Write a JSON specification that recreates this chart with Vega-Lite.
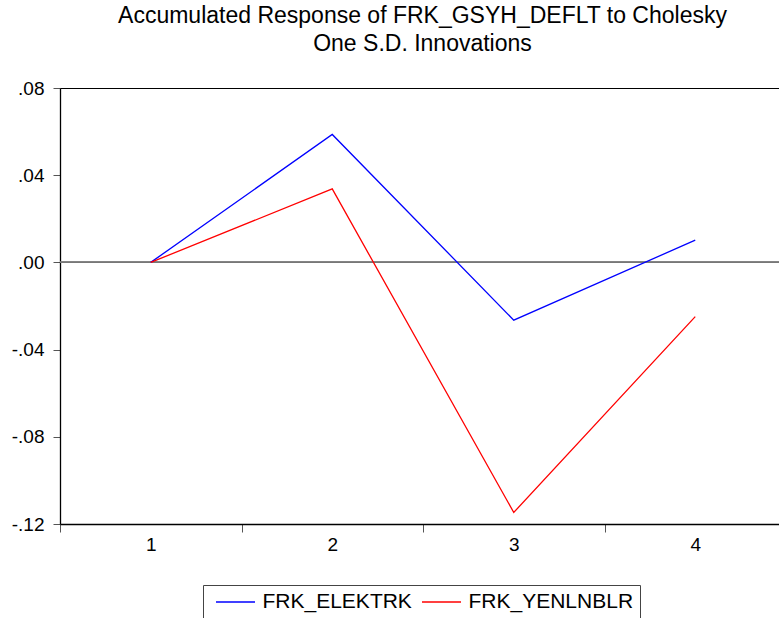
{
  "$schema": "https://vega.github.io/schema/vega-lite/v6.json",
  "autosize": {"type": "none"},
  "width": 719,
  "height": 436,
  "padding": {"left": 60, "top": 88, "right": 0, "bottom": 94},
  "background": "white",
  "config": {
    "font": "Liberation Sans",
    "view": {"stroke": "#000000", "strokeWidth": 1}
  },
  "title": {
    "text": ["Accumulated Response of FRK_GSYH_DEFLT to Cholesky", "One S.D. Innovations"],
    "fontSize": 23,
    "fontWeight": "normal",
    "color": "#000000",
    "lineHeight": 28,
    "anchor": "middle",
    "offset": 23,
    "dx": 3
  },
  "data": {
    "values": [
      {"period": "1", "series": "FRK_ELEKTRK", "value": 0.0},
      {"period": "2", "series": "FRK_ELEKTRK", "value": 0.0587},
      {"period": "3", "series": "FRK_ELEKTRK", "value": -0.0265},
      {"period": "4", "series": "FRK_ELEKTRK", "value": 0.0102},
      {"period": "1", "series": "FRK_YENLNBLR", "value": 0.0},
      {"period": "2", "series": "FRK_YENLNBLR", "value": 0.0337},
      {"period": "3", "series": "FRK_YENLNBLR", "value": -0.1147},
      {"period": "4", "series": "FRK_YENLNBLR", "value": -0.0249}
    ]
  },
  "layer": [
    {
      "mark": {"type": "rule", "color": "#777777", "strokeWidth": 1.3},
      "encoding": {"y": {"datum": 0, "type": "quantitative"}}
    },
    {
      "mark": {"type": "line", "strokeWidth": 1.3},
      "encoding": {
        "x": {
          "field": "period",
          "type": "ordinal",
          "bandPosition": 0.5,
          "scale": {"type": "band", "paddingInner": 0, "paddingOuter": 0, "range": [0, 726]},
          "axis": {
            "title": null,
            "tickBand": "extent",
            "labelAngle": 0,
            "labelFontSize": 19,
            "labelColor": "#000000",
            "labelPadding": 3,
            "tickSize": 8,
            "tickColor": "#555555",
            "domainColor": "#000000",
            "domainWidth": 1.3,
            "grid": false
          }
        },
        "y": {
          "field": "value",
          "type": "quantitative",
          "scale": {"domain": [-0.12, 0.08], "nice": false, "zero": false},
          "axis": {
            "title": null,
            "values": [-0.12, -0.08, -0.04, 0, 0.04, 0.08],
            "labelExpr": "(datum.value < 0 ? '-' : '') + replace(format(abs(datum.value), '.2f'), '0.', '.')",
            "labelFontSize": 19,
            "labelColor": "#000000",
            "labelPadding": 9,
            "tickSize": 7,
            "tickColor": "#555555",
            "domainColor": "#000000",
            "domainWidth": 1.3,
            "grid": false
          }
        },
        "color": {
          "field": "series",
          "type": "nominal",
          "scale": {"domain": ["FRK_ELEKTRK", "FRK_YENLNBLR"], "range": ["#0000FF", "#FF0000"]},
          "legend": {
            "title": null,
            "orient": "none",
            "legendX": 143,
            "legendY": 497,
            "direction": "horizontal",
            "symbolType": "M-1.95,0H1.95",
            "symbolSize": 400,
            "symbolOffset": 15.5,
            "symbolStrokeWidth": 1.3,
            "labelFontSize": 21,
            "labelLimit": 300,
            "labelColor": "#000000",
            "labelOffset": 16,
            "columnPadding": 3,
            "padding": 6,
            "strokeColor": "#444444"
          }
        }
      }
    }
  ]
}
